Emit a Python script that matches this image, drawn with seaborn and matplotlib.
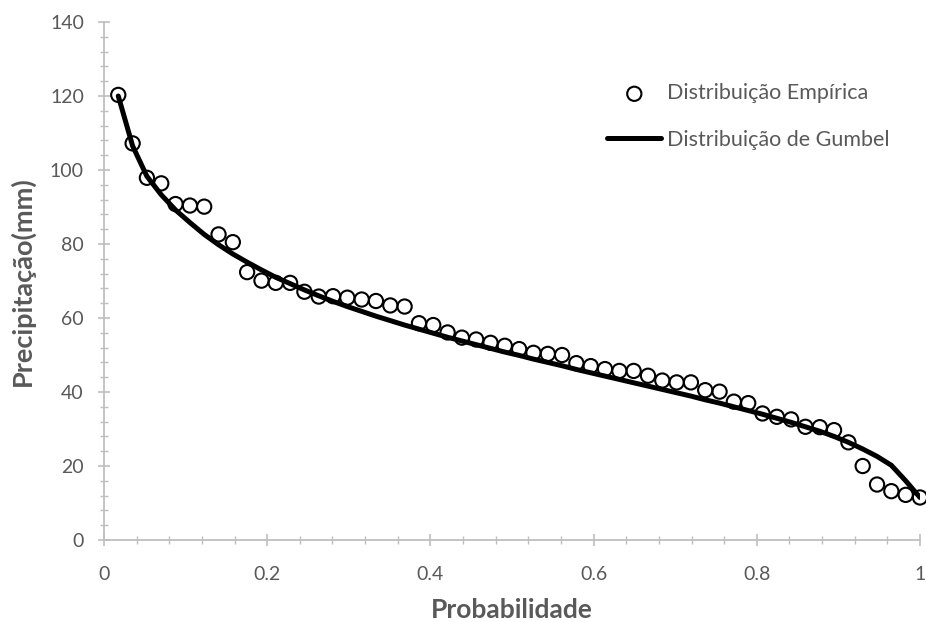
import numpy as np
import pandas as pd
import matplotlib
matplotlib.use("Agg")
import matplotlib.pyplot as plt
from matplotlib.ticker import MultipleLocator
import seaborn as sns

# probabilidade (posição de plotagem)
prob = [0.0175, 0.0351, 0.0526, 0.0702, 0.0877, 0.1053, 0.1228, 0.1404, 0.1579, 0.1754,
        0.1930, 0.2105, 0.2281, 0.2456, 0.2632, 0.2807, 0.2982, 0.3158, 0.3333, 0.3509,
        0.3684, 0.3860, 0.4035, 0.4211, 0.4386, 0.4561, 0.4737, 0.4912, 0.5088, 0.5263,
        0.5439, 0.5614, 0.5789, 0.5965, 0.6140, 0.6316, 0.6491, 0.6667, 0.6842, 0.7018,
        0.7193, 0.7368, 0.7544, 0.7719, 0.7895, 0.8070, 0.8246, 0.8421, 0.8596, 0.8772,
        0.8947, 0.9123, 0.9298, 0.9474, 0.9649, 0.9825, 1.0]

# distribuição empírica (mm)
empirica = [120.3, 107.2, 97.9, 96.4, 90.8, 90.4, 90.1, 82.6, 80.5, 72.4,
            70.1, 69.5, 69.5, 67.1, 65.8, 65.9, 65.5, 65.0, 64.6, 63.4,
            63.1, 58.6, 58.1, 56.1, 54.7, 54.2, 53.3, 52.5, 51.6, 50.6,
            50.3, 50.0, 47.8, 47.0, 46.2, 45.7, 45.7, 44.4, 43.1, 42.6,
            42.6, 40.5, 40.1, 37.4, 37.0, 34.2, 33.3, 32.6, 30.6, 30.5,
            29.7, 26.4, 20.0, 15.0, 13.2, 12.2, 11.5]

# distribuição de Gumbel (mm)
gumbel = [120.0, 106.5, 98.3, 93.3, 89.2, 85.8, 82.6, 79.8, 77.3, 75.1,
          73.0, 71.0, 69.3, 67.6, 66.0, 64.5, 63.1, 61.8, 60.5, 59.3,
          58.1, 57.0, 55.9, 54.8, 53.8, 52.8, 51.8, 50.8, 49.9, 48.9,
          48.0, 47.1, 46.1, 45.2, 44.3, 43.4, 42.5, 41.6, 40.7, 39.8,
          38.9, 37.9, 37.0, 36.0, 35.0, 34.0, 32.9, 31.8, 30.6, 29.4,
          28.0, 26.4, 24.6, 22.6, 20.2, 16.0, 11.5]

xticks = [0, 0.2, 0.4, 0.6, 0.8, 1]
xlabels = ['0', '0.2', '0.4', '0.6', '0.8', '1']
yticks = [0, 20, 40, 60, 80, 100, 120, 140]

d = pd.DataFrame({'prob': prob, 'emp': empirica, 'gum': gumbel})

sns.set_style("ticks")
plt.rcParams['font.family'] = ['Lato', 'DejaVu Sans']
grey = '#595959'
axc = '#bfbfbf'

fig = plt.figure(figsize=(9.26, 6.22), dpi=100)
ax = fig.add_axes([0.1123, 0.1318, 0.8812, 0.8328])

sns.lineplot(x='prob', y='gum', data=d, ax=ax, color='black', linewidth=3.6,
             label='Distribuição de Gumbel', zorder=2)
sns.scatterplot(x='prob', y='emp', data=d, ax=ax, marker='o', s=105,
                facecolors='none', edgecolor='black', linewidth=1.5,
                label='Distribuição Empírica', zorder=3, clip_on=False)

ax.set_xlim(0, 1)
ax.set_ylim(0, 140)
ax.set_xticks(xticks)
ax.set_xticklabels(xlabels)
ax.set_yticks(yticks)
ax.xaxis.set_minor_locator(MultipleLocator(0.04))
ax.yaxis.set_minor_locator(MultipleLocator(4))

sns.despine(ax=ax)
for s in ['left', 'bottom']:
    ax.spines[s].set_color(axc)
    ax.spines[s].set_linewidth(1.3)
ax.tick_params(which='major', direction='inout', length=9, width=1.2, color=axc,
               labelcolor=grey, labelsize=14)
ax.tick_params(which='minor', direction='inout', length=6, width=1.0, color=axc)
ax.tick_params(axis='x', which='major', pad=14)
ax.tick_params(axis='y', which='major', pad=10)

ax.set_xlabel('Probabilidade', fontsize=19, fontweight='bold', color=grey, labelpad=11)
ax.set_ylabel('Precipitação(mm)', fontsize=19.5, fontweight='bold', color=grey, labelpad=11)

h, l = ax.get_legend_handles_labels()
ax.legend([h[1], h[0]], [l[1], l[0]], loc='upper left', bbox_to_anchor=(0.635, 0.897),
          bbox_transform=fig.transFigure, frameon=False, fontsize=15.5,
          labelcolor=grey, handlelength=2.5, handletextpad=0.25, labelspacing=1.22)

plt.savefig('out.png', dpi=100)
